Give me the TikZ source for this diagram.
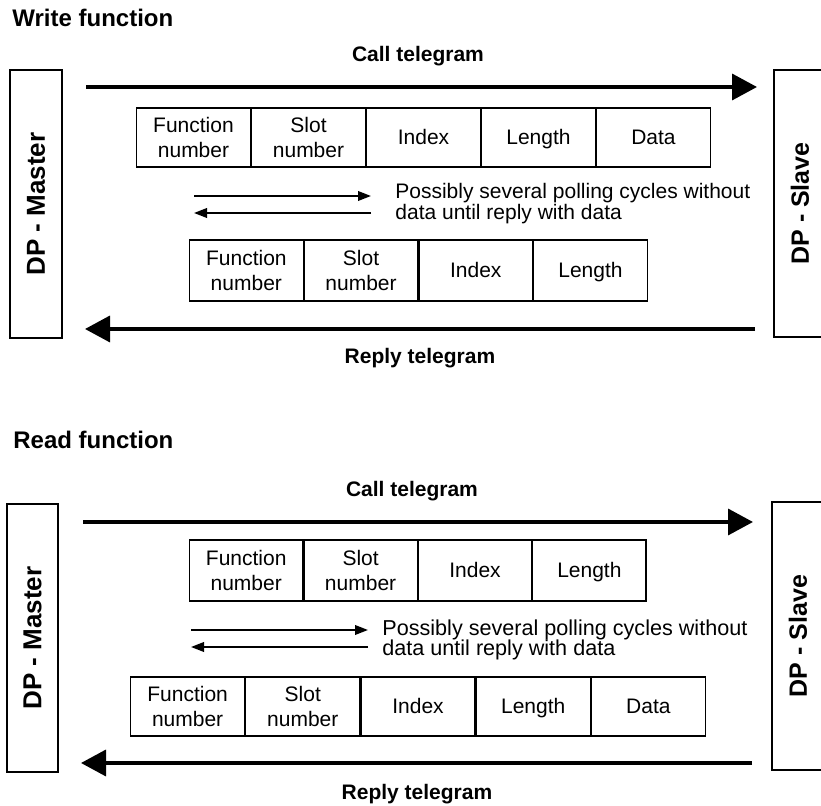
\documentclass[tikz,border=0pt]{standalone}
\usepackage{fontspec}
\setmainfont{Liberation Sans}
\usetikzlibrary{arrows.meta}
\newcommand{\cst}{\rule[-2.5pt]{0pt}{12.5pt}}
\begin{document}
\begin{tikzpicture}[x=0.5pt,y=-0.5pt,
  cell/.style={draw,line width=0.6pt,inner sep=0pt,anchor=west,align=center,
    font=\fontsize{10.5}{12.5}\selectfont},
  sidebox/.style={draw,line width=0.6pt,inner sep=0pt,rotate=90,
    font=\bfseries\fontsize{12.5}{14}\selectfont},
  title/.style={anchor=base west,inner sep=0pt,font=\bfseries\fontsize{12}{14}\selectfont},
  tglabel/.style={anchor=base,inner sep=0pt,font=\bfseries\fontsize{10.5}{12}\selectfont},
  polltext/.style={anchor=base west,inner sep=0pt,font=\fontsize{10.5}{12}\selectfont},
  bigarrow/.style={line width=1.8pt,-{Triangle[length=12.5pt,width=13pt]}},
  thinarrow/.style={line width=0.9pt,-{Triangle[length=6.5pt,width=4.8pt]}}
]
\useasboundingbox (0,0) rectangle (821,806);
\clip (0,0) rectangle (821,806);

% ---------------- Write function ----------------
\node[title] (wtitle) at (12,27) {Write function};
\node[tglabel] (wcall) at (418,62) {Call telegram};
\node[tglabel] (wreply) at (420,364) {Reply telegram};

\node[sidebox,minimum width=134pt,minimum height=26pt,font=\bfseries\fontsize{13}{14}\selectfont] (wm) at (36,204) {DP - Master};
\node[sidebox,minimum width=133.5pt,minimum height=26pt] (ws) at (800,203.5) {DP - Slave};

\coordinate (wcs) at (86,87);
\coordinate (wce) at (757,87);
\draw[bigarrow] (wcs) -- (wce);

\begin{scope}[cell/.append style={minimum width=56.9pt,minimum height=29.5pt}]
\node[cell] (wc1) at (136,137.5) {Function\\number};
\node[cell] (wc2) at (wc1.east) {Slot\\number};
\node[cell] (wc3) at (wc2.east) {\cst Index};
\node[cell] (wc4) at (wc3.east) {\cst Length};
\node[cell] (wc5) at (wc4.east) {\cst Data};
\end{scope}

\coordinate (wpa) at (194,196);
\coordinate (wpb) at (371,196);
\coordinate (wpc) at (371,213);
\coordinate (wpd) at (194,213);
\draw[thinarrow] (wpa) -- (wpb);
\draw[thinarrow] (wpc) -- (wpd);
\node[polltext] (wpt1) at (395,199) {Possibly several polling cycles without};
\node[polltext] (wpt2) at (395,220) {data until reply with data};

\begin{scope}[cell/.append style={minimum width=56.75pt,minimum height=30.5pt}]
\node[cell] (wr1) at (189,270.5) {Function\\number};
\node[cell] (wr2) at (wr1.east) {Slot\\number};
\node[cell] (wr3) at (wr2.east) {\cst Index};
\node[cell] (wr4) at (wr3.east) {\cst Length};
\end{scope}

\coordinate (wrs) at (755,329);
\coordinate (wre) at (85,329);
\draw[bigarrow] (wrs) -- (wre);

% ---------------- Read function ----------------
\node[title] (rtitle) at (13,449) {Read function};
\node[tglabel] (rcall) at (412,497) {Call telegram};
\node[tglabel] (rreply) at (417,800) {Reply telegram};

\node[sidebox,minimum width=134pt,minimum height=25.5pt,font=\bfseries\fontsize{13}{14}\selectfont] (rm) at (32.5,638) {DP - Master};
\node[sidebox,minimum width=134pt,minimum height=26pt] (rs) at (798,636) {DP - Slave};

\coordinate (rcs) at (83,522);
\coordinate (rce) at (753,522);
\draw[bigarrow] (rcs) -- (rce);

\begin{scope}[cell/.append style={minimum width=56.6pt,minimum height=30.5pt}]
\node[cell] (rc1) at (189,570.5) {Function\\number};
\node[cell] (rc2) at (rc1.east) {Slot\\number};
\node[cell] (rc3) at (rc2.east) {\cst Index};
\node[cell] (rc4) at (rc3.east) {\cst Length};
\end{scope}

\coordinate (rpa) at (191,630);
\coordinate (rpb) at (368,630);
\coordinate (rpc) at (368,647);
\coordinate (rpd) at (191,647);
\draw[thinarrow] (rpa) -- (rpb);
\draw[thinarrow] (rpc) -- (rpd);
\node[polltext,font=\fontsize{10.8}{12}\selectfont] (rpt1) at (382,636) {Possibly several polling cycles without};
\node[polltext,font=\fontsize{10.8}{12}\selectfont] (rpt2) at (382,656) {data until reply with data};

\begin{scope}[cell/.append style={minimum width=57pt,minimum height=29.5pt}]
\node[cell] (rr1) at (130,706.5) {Function\\number};
\node[cell] (rr2) at (rr1.east) {Slot\\number};
\node[cell] (rr3) at (rr2.east) {\cst Index};
\node[cell] (rr4) at (rr3.east) {\cst Length};
\node[cell] (rr5) at (rr4.east) {\cst Data};
\end{scope}

\coordinate (rrs) at (752,763);
\coordinate (rre) at (81,763);
\draw[bigarrow] (rrs) -- (rre);
\end{tikzpicture}
\end{document}
